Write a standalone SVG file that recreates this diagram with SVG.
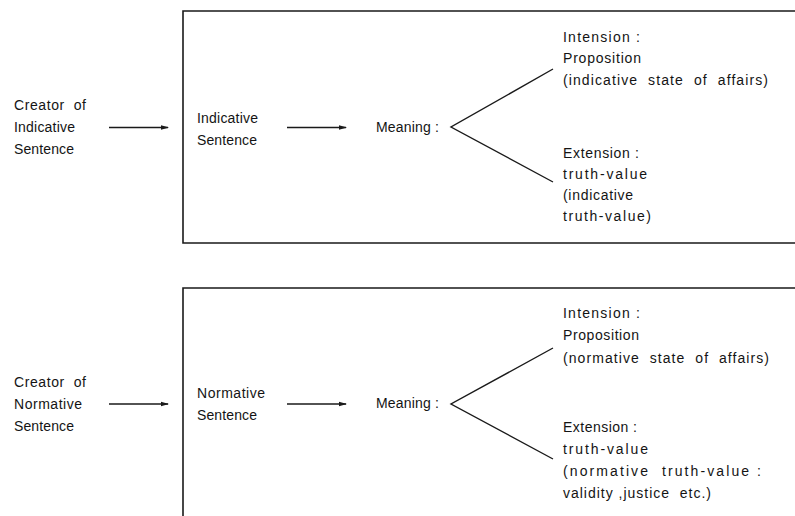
<svg xmlns="http://www.w3.org/2000/svg" width="795" height="516" viewBox="0 0 795 516" xml:space="preserve">
<style>
text{font-family:"Liberation Sans",Arial,sans-serif;font-size:14px;fill:#141414;white-space:pre}
.frame{fill:none;stroke:#1a1a1a;stroke-width:1.6}
.ln{fill:none;stroke:#1a1a1a;stroke-width:1.4}
.arr{fill:none;stroke:#1a1a1a;stroke-width:1.6;marker-end:url(#ah)}
</style>
<defs>
<marker id="ah" markerWidth="8" markerHeight="6" refX="7" refY="3" orient="auto" markerUnits="userSpaceOnUse">
<path d="M0,0.8 L8,3 L0,5.2 Z" fill="#1a1a1a"/>
</marker>
</defs>
<g id="frames">
<path class="frame" d="M795,11 H183 V243 H795"/>
<path class="frame" d="M795,288 H183 V516"/>
</g>
<g id="connectors">
<line class="arr" x1="109" y1="127.5" x2="168" y2="127.5"/>
<line class="arr" x1="287" y1="127.5" x2="346" y2="127.5"/>
<path class="ln" d="M553,69 L451,127 L553,182"/>
<line class="arr" x1="109" y1="404" x2="168" y2="404"/>
<line class="arr" x1="287" y1="404" x2="346" y2="404"/>
<path class="ln" d="M553,348 L451,404 L553,459"/>
</g>
<g id="creator-indicative">
<text x="14" y="110" textLength="72" lengthAdjust="spacing">Creator  of</text>
<text x="14" y="132" textLength="61" lengthAdjust="spacing">Indicative</text>
<text x="14" y="154" textLength="60" lengthAdjust="spacing">Sentence</text>
</g>
<g id="indicative-sentence">
<text x="197" y="123" textLength="61" lengthAdjust="spacing">Indicative</text>
<text x="197" y="145" textLength="60" lengthAdjust="spacing">Sentence</text>
</g>
<g id="meaning-1">
<text x="376" y="132" textLength="63" lengthAdjust="spacing">Meaning :</text>
</g>
<g id="intension-1">
<text x="563" y="42" textLength="77" lengthAdjust="spacing">Intension :</text>
<text x="563" y="63" textLength="78" lengthAdjust="spacing">Proposition</text>
<text x="563" y="85" textLength="205" lengthAdjust="spacing">(indicative  state  of  affairs)</text>
</g>
<g id="extension-1">
<text x="563" y="158" textLength="76" lengthAdjust="spacing">Extension :</text>
<text x="563" y="179" textLength="84" lengthAdjust="spacing">truth-value</text>
<text x="563" y="200" textLength="70" lengthAdjust="spacing">(indicative</text>
<text x="563" y="221" textLength="88" lengthAdjust="spacing">truth-value)</text>
</g>
<g id="creator-normative">
<text x="14" y="387" textLength="72" lengthAdjust="spacing">Creator  of</text>
<text x="14" y="409" textLength="68" lengthAdjust="spacing">Normative</text>
<text x="14" y="431" textLength="60" lengthAdjust="spacing">Sentence</text>
</g>
<g id="normative-sentence">
<text x="197" y="398" textLength="68" lengthAdjust="spacing">Normative</text>
<text x="197" y="420" textLength="60" lengthAdjust="spacing">Sentence</text>
</g>
<g id="meaning-2">
<text x="376" y="408" textLength="63" lengthAdjust="spacing">Meaning :</text>
</g>
<g id="intension-2">
<text x="563" y="318" textLength="77" lengthAdjust="spacing">Intension :</text>
<text x="563" y="340" textLength="76" lengthAdjust="spacing">Proposition</text>
<text x="563" y="363" textLength="206" lengthAdjust="spacing">(normative  state  of  affairs)</text>
</g>
<g id="extension-2">
<text x="563" y="432" textLength="74" lengthAdjust="spacing">Extension :</text>
<text x="563" y="454" textLength="85" lengthAdjust="spacing">truth-value</text>
<text x="563" y="476" textLength="198" lengthAdjust="spacing">(normative  truth-value :</text>
<text x="563" y="498" textLength="148" lengthAdjust="spacing">validity ,justice  etc.)</text>
</g>
</svg>
